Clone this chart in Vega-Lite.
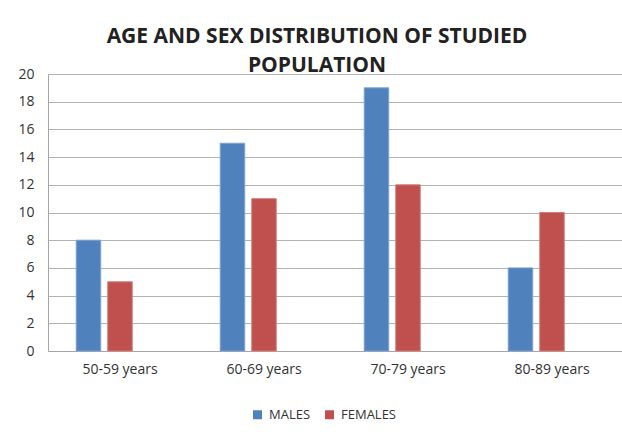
{
  "$schema": "https://vega.github.io/schema/vega-lite/v6.json",
  "width": 576,
  "height": 277,
  "autosize": {"type": "none"},
  "padding": {"left": 48, "top": 74, "right": 0, "bottom": 81},
  "background": "white",
  "title": {
    "text": ["AGE AND SEX DISTRIBUTION OF STUDIED", "POPULATION"],
    "font": "Open Sans",
    "fontSize": 21,
    "fontWeight": "bold",
    "color": "#222222",
    "lineHeight": 29,
    "anchor": "middle",
    "dx": -19,
    "offset": -9
  },
  "data": {
    "values": [
      {"age": "50-59 years", "sex": "MALES", "count": 8},
      {"age": "50-59 years", "sex": "FEMALES", "count": 5},
      {"age": "60-69 years", "sex": "MALES", "count": 15},
      {"age": "60-69 years", "sex": "FEMALES", "count": 11},
      {"age": "70-79 years", "sex": "MALES", "count": 19},
      {"age": "70-79 years", "sex": "FEMALES", "count": 12},
      {"age": "80-89 years", "sex": "MALES", "count": 6},
      {"age": "80-89 years", "sex": "FEMALES", "count": 10}
    ]
  },
  "mark": {"type": "bar", "strokeWidth": 1},
  "encoding": {
    "x": {
      "field": "age",
      "type": "nominal",
      "sort": null,
      "scale": {"paddingInner": 0.392, "paddingOuter": 0.196},
      "axis": {
        "title": null,
        "labelAngle": 0,
        "ticks": false,
        "labelPadding": 11,
        "labelFont": "Open Sans",
        "labelFontSize": 14,
        "labelColor": "#333333",
        "domainColor": "#A6A6A6",
        "grid": false
      }
    },
    "xOffset": {
      "field": "sex",
      "type": "nominal",
      "scale": {"domain": ["MALES", "FEMALES", "OTHER"], "paddingInner": 0.222, "paddingOuter": 0}
    },
    "y": {
      "field": "count",
      "type": "quantitative",
      "scale": {"domain": [0, 20], "nice": false},
      "axis": {
        "title": null,
        "values": [0, 2, 4, 6, 8, 10, 12, 14, 16, 18, 20],
        "ticks": false,
        "labelPadding": 14,
        "labelFont": "Open Sans",
        "labelFontSize": 14,
        "labelColor": "#333333",
        "domainColor": "#A6A6A6",
        "gridColor": "#B3B3B3",
        "gridOpacity": 1
      }
    },
    "fill": {
      "field": "sex",
      "type": "nominal",
      "scale": {"domain": ["MALES", "FEMALES"], "range": ["#4F81BD", "#C0504D"]},
      "legend": {
        "title": null,
        "orient": "none",
        "direction": "horizontal",
        "legendX": 203,
        "legendY": 334,
        "symbolType": "square",
        "symbolSize": 81,
        "symbolStrokeWidth": 0,
        "labelOffset": 5,
        "columnPadding": 12,
        "labelFont": "Open Sans",
        "labelFontSize": 13,
        "labelColor": "#333333"
      }
    },
    "stroke": {
      "field": "sex",
      "type": "nominal",
      "scale": {"domain": ["MALES", "FEMALES"], "range": ["#7FA2D2", "#D5807D"]},
      "legend": null
    }
  },
  "config": {
    "view": {"stroke": null}
  }
}
